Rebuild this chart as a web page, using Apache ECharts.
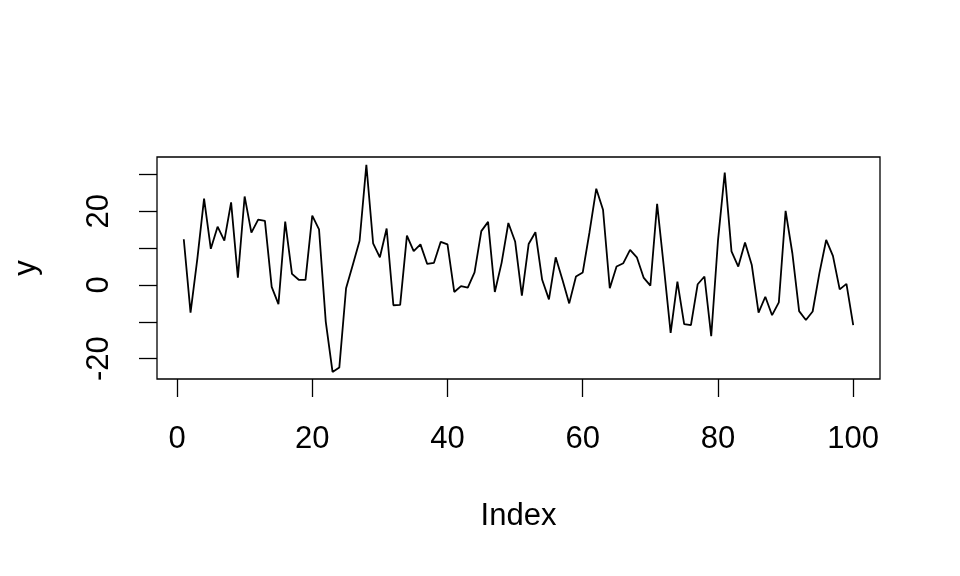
<!DOCTYPE html>
<html>
<head>
<meta charset="utf-8">
<script src="https://cdn.jsdelivr.net/npm/echarts@6/dist/echarts.min.js"></script>
<style>html,body{margin:0;padding:0;background:#fff;}#c{width:960px;height:576px;}</style>
</head>
<body>
<div id="c"></div>
<script>
// y values at Index 1..100
var yValues = [
  12.4, -7.5, 7.0, 23.4, 9.8, 15.8, 12.0, 22.4, 2.0, 24.0,
  14.2, 17.7, 17.4, -0.5, -5.2, 17.2, 3.0, 1.4, 1.4, 18.8,
  15.1, -10.0, -23.6, -22.4, -0.9, 5.5, 12.0, 32.6, 11.3, 7.5,
  15.3, -5.5, -5.4, 13.4, 9.2, 11.0, 5.7, 6.0, 11.7, 11.0,
  -1.9, -0.3, -0.7, 3.4, 14.6, 17.1, -1.9, 6.0, 16.8, 11.8,
  -2.9, 11.1, 14.3, 1.4, -3.9, 7.5, 1.4, -5.0, 2.3, 3.4,
  14.3, 26.1, 20.4, -0.9, 5.0, 5.9, 9.5, 7.5, 2.0, -0.2,
  22.0, 4.8, -13.0, 0.9, -10.6, -10.9, 0.2, 2.3, -13.9, 12.0,
  30.5, 9.1, 5.0, 11.5, 5.4, -7.5, -3.2, -8.2, -4.7, 20.1,
  8.6, -7.1, -9.5, -7.2, 3.2, 12.2, 7.9, -1.2, 0.3, -10.9
];
var xTicks = [0, 20, 40, 60, 80, 100];
var yTicks = [-20, -10, 0, 10, 20, 30];
var yLabels = [-20, 0, 20];

var seriesData = yValues.map(function (v, i) { return [i + 1, v]; });

var font = 'Liberation Sans, Arial, Helvetica, sans-serif';
var chart = echarts.init(document.getElementById('c'), null, { renderer: 'canvas' });
chart.setOption({
  animation: false,
  backgroundColor: '#ffffff',
  grid: { left: 157, right: 80, top: 157, bottom: 197, show: true, borderColor: '#000', borderWidth: 1.3, backgroundColor: 'transparent' },
  xAxis: {
    type: 'value', min: -2.96, max: 103.96,
    name: 'Index', nameLocation: 'middle', nameGap: 122,
    nameTextStyle: { fontFamily: font, fontSize: 31, color: '#000' },
    axisLine: { show: false, onZero: false },
    splitLine: { show: false },
    axisTick: { show: true, length: 18, lineStyle: { color: '#000', width: 1.3 }, customValues: xTicks },
    axisLabel: { fontFamily: font, fontSize: 31, color: '#000', margin: 45, customValues: xTicks, showMinLabel: true, showMaxLabel: true }
  },
  yAxis: {
    type: 'value', min: -25.5, max: 34.7,
    name: 'y', nameLocation: 'middle', nameGap: 115, nameRotate: 90,
    nameTextStyle: { fontFamily: font, fontSize: 31, color: '#000' },
    axisLine: { show: false, onZero: false },
    splitLine: { show: false },
    axisTick: { show: true, length: 18, lineStyle: { color: '#000', width: 1.3 }, customValues: yTicks },
    axisLabel: { fontFamily: font, fontSize: 31, color: '#000', margin: 42, rotate: 90, customValues: yLabels, showMinLabel: true, showMaxLabel: true }
  },
  series: [{
    type: 'line', data: seriesData, showSymbol: false, symbol: 'none',
    lineStyle: { color: '#000', width: 1.8 }, silent: true
  }]
});
</script>
</body>
</html>
